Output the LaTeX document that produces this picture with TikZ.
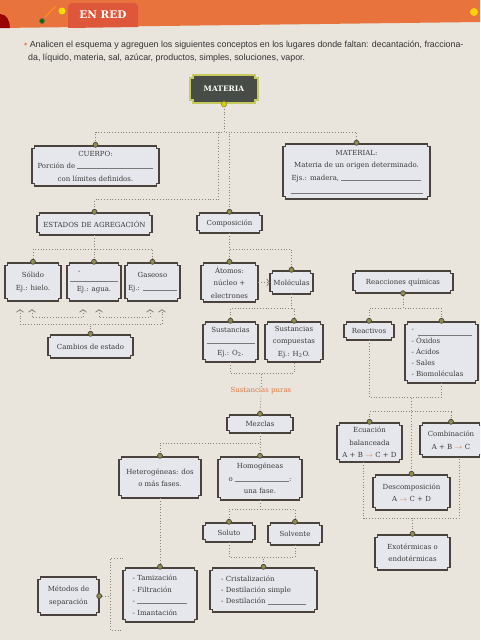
\documentclass[tikz,border=0pt]{standalone}
\usepackage{fontspec}
\setmainfont{DejaVu Serif}
\newfontfamily\instrfont{Liberation Sans}
\usetikzlibrary{arrows.meta,calc}
\definecolor{pagebg}{HTML}{E9E4DC}
\definecolor{headorange}{HTML}{E8733C}
\definecolor{tabred}{HTML}{DE573A}
\definecolor{boxfill}{HTML}{E6E7EC}
\definecolor{boxedge}{HTML}{4A433D}
\definecolor{knobfill}{HTML}{8E8F4C}
\definecolor{dotcol}{HTML}{8C8176}
\definecolor{txtcol}{HTML}{3A3A3A}
\definecolor{linegray}{HTML}{7A7A7A}
\definecolor{matfill}{HTML}{484C46}
\definecolor{matedge}{HTML}{C6CA5E}
\definecolor{accent}{HTML}{E07A45}
\newcommand\blank[1]{\textcolor{linegray}{\rule[-0.3pt]{#1pt}{0.45pt}}}
\newcommand\arr{\textcolor{accent}{$\rightarrow$}}
\def\notchsz{2.5}
\newcommand\notchpath[4]{(#1+\notchsz,#2) -- (#3-\notchsz,#2) -- (#3-\notchsz,#2+\notchsz) -- (#3,#2+\notchsz) -- (#3,#4-\notchsz) -- (#3-\notchsz,#4-\notchsz) -- (#3-\notchsz,#4) -- (#1+\notchsz,#4) -- (#1+\notchsz,#4-\notchsz) -- (#1,#4-\notchsz) -- (#1,#2+\notchsz) -- (#1+\notchsz,#2+\notchsz) -- cycle}
\newcommand\nbox[7][]{%
  \path[boxpath] \notchpath{#3}{#4}{#5}{#6};
  \node[boxtext,#1] (#2) at ({(#3+#5)/2},{(#4+#6)/2}) [minimum width={(#5-#3)*1pt}, minimum height={(#6-#4)*1pt}] {#7};
}
\newcommand\knob[1]{\filldraw[knobstyle] ($(#1)+(0,-1)$) circle (2.5pt);}
\tikzset{
  boxpath/.style={fill=boxfill, draw=boxedge, line width=1.5pt},
  boxtext/.style={inner sep=0pt, align=center, text=txtcol, font=\fontsize{7}{12.5}\selectfont},
  dl/.style={draw=dotcol, dotted, line width=0.8pt},
  knobstyle/.style={fill=knobfill, draw=boxedge, line width=0.7pt},
  cs/.style={{Straight Barb[length=2.5pt,width=7pt]}-{Straight Barb[length=2.5pt,width=7pt]}, shorten <=8pt, shorten >=8pt},
}
\begin{document}
\begin{tikzpicture}[x=1pt,y=-1pt]
\useasboundingbox (0,0) rectangle (480,640);
\clip (0,0) rectangle (480,640);
% page and header
\fill[pagebg] (0,0) rectangle (480,640);
\fill[headorange] (0,0) -- (480,0) -- (480,22) -- (0,28) -- cycle;
\fill[tabred] (68,28) -- (68,7) to[out=90,in=180] (72,3) -- (134,3) to[out=0,in=90] (138,7) -- (138,27) -- cycle;
\draw[orange!60!yellow, line width=0.6pt] (45,17) -- (56,6);
\fill[yellow!80!orange] (62,11) circle (3.5pt);
\filldraw[fill=green!45!black, draw=black!60, line width=0.6pt] (42,21) circle (2.5pt);
\fill[red!60!black] (0,14) to[out=0,in=90] (10,28) -- (0,28) -- cycle;
\fill[yellow!70!orange] (474,12) circle (4pt);
\node[font=\bfseries\fontsize{10.5}{12}\selectfont, text=white] (enred) at (103,15) {EN RED};
% instructions
\node[anchor=base west, inner sep=0pt, text=black!80, font=\instrfont\fontsize{8.85}{10}\selectfont] (instr1) at (24,47) {\textcolor{accent}{\textbullet}\ Analicen el esquema y agreguen los siguientes conceptos en los lugares donde faltan: decantación, fracciona-};
\node[anchor=base west, inner sep=0pt, text=black!80, font=\instrfont\fontsize{8.85}{10}\selectfont] (instr2) at (28,60) {da, líquido, materia, sal, azúcar, productos, simples, soluciones, vapor.};
% MATERIA
\def\notchsz{3}
\path[fill=matfill, draw=matedge, line width=2.2pt] \notchpath{190}{75}{258}{103};
\def\notchsz{2.5}
\node[inner sep=0pt, text=white, font=\bfseries\fontsize{7.5}{9}\selectfont] (materia) at (224,89) [minimum width=68pt, minimum height=28pt] {MATERIA};
% boxes
\nbox{cuerpo}{32}{146}{159}{186}{CUERPO:\\Porción de \blank{76}\\con límites definidos.}
\nbox{material}{283}{144}{430}{199}{MATERIAL:\\Materia de un origen determinado.\\Ejs.: madera, \blank{80}\\\blank{132}}
\nbox{estados}{37}{213}{152}{235}{ESTADOS DE AGREGACIÓN}
\nbox{compos}{197}{213}{262}{233}{Composición}
\nbox{solido}{5}{263}{61}{301}{Sólido\\Ej.: hielo.}
\nbox{liquido}{67}{263}{121}{301}{\makebox[48pt][l]{\hspace{8pt}-}\\[-5pt]\blank{48}\\[-2pt]Ej.: agua.}
\nbox{gaseoso}{125}{263}{180}{301}{Gaseoso\\[1pt]Ej.: \blank{34}}
\nbox{atomos}{201}{263}{258}{302}{Átomos:\\núcleo +\\electrones}
\nbox{molec}{270}{271}{313}{294}{Moléculas}
\nbox{reacc}{353}{271}{453}{293}{Reacciones químicas}
\nbox{cambios}{48}{335}{133}{358}{Cambios de estado}
\nbox{simples}{203}{322}{258}{362}{Sustancias\\[-1.5pt]\blank{48}\\[-0.5pt]Ej.: O\textsubscript{2}.}
\nbox{compuestas}{265}{322}{323}{362}{Sustancias\\compuestas\\Ej.: H\textsubscript{2}O.}
\nbox{reactivos}{344}{322}{394}{340}{Reactivos}
\nbox[align=left, font=\fontsize{7}{11}\selectfont]{productos}{405}{322}{478}{383}{-\\[-7pt]\hspace*{6pt}\blank{54}\\[-3pt]- Óxidos\\- Ácidos\\- Sales\\- Biomoléculas}
\node[inner sep=1pt, text=accent, font=\fontsize{7}{8}\selectfont] (puras) at (261,391) {Sustancias puras};
\nbox{mezclas}{227}{415}{293}{433}{Mezclas}
\nbox{ecuacion}{337}{423}{402}{462}{Ecuación\\balanceada\\A + B \arr{} C + D}
\nbox{combin}{420}{423}{482}{457}{Combinación\\A + B \arr{} C}
\nbox{descomp}{373}{475}{450}{510}{Descomposición\\A \arr{} C + D}
\nbox{hetero}{119}{457}{201}{498}{Heterogéneas: dos\\o más fases.}
\nbox{homo}{218}{457}{302}{500}{Homogéneas\\o \blank{54}:\\una fase.}
\nbox{soluto}{203}{523}{255}{542}{Soluto}
\nbox{solvente}{268}{523}{322}{545}{Solvente}
\nbox{exo}{375}{535}{450}{570}{Exotérmicas o\\endotérmicas}
\nbox[align=left, font=\fontsize{7}{11.5}\selectfont]{tamiz}{123}{568}{197}{622}{- Tamización\\- Filtración\\- \blank{50}\\- Imantación}
\nbox[align=left, font=\fontsize{7}{11}\selectfont]{cristal}{210}{568}{317}{612}{- Cristalización\\- Destilación simple\\- Destilación \blank{38}}
\nbox{metodos}{38}{577}{99}{615}{Métodos de\\separación}
% connectors
\draw[dl] (materia.south) -- ++(0,29) -| (cuerpo.north);
\draw[dl] (materia.south) -- ++(0,29) -| (material.north);
\draw[dl] (compos.north) -- ++(0,-81);
\draw[dl] (estados.north) |- ++(124,-13) -- ++(0,-68);
\draw[dl] (estados.south) -- ++(0,14) -| (solido.north);
\draw[dl] (estados.south) -- ++(0,14) -| (gaseoso.north);
\draw[dl] (estados.south) -- ++(0,14) -| (liquido.north);
\draw[dl,cs] ([xshift=-1pt]solido.south) -- ++(0,16) -| ([xshift=-11pt]liquido.south);
\draw[dl,cs] ([xshift=5pt]liquido.south) -- ++(0,16) -| ([xshift=-2.5pt]gaseoso.south);
\draw[dl,cs] ([xshift=-13pt]solido.south) -- ++(0,23) -| ([xshift=9.5pt]gaseoso.south);
\draw[dl] (cambios.north) -- ++(0,-11);
\draw[dl] (compos.south) -- (atomos.north);
\draw[dl] (compos.south) -- ++(0,16) -| (molec.north);
\draw[dl,-{Straight Barb[length=2.5pt,width=7pt]}] (atomos.east) -- (molec.west);
\draw[dl] (molec.south) -- ++(0,14) -| (simples.north);
\draw[dl] (molec.south) -- ++(0,14) -| (compuestas.north);
\draw[dl] (simples.south) -- ++(0,11) -| (compuestas.south);
\draw[dl] (puras.north) -- ++(0,-13);
\draw[dl] (puras.south) -- (mezclas.north);
\draw[dl] (reacc.south) -- ++(0,15) -| (reactivos.north);
\draw[dl] (reacc.south) -- ++(0,15) -| (productos.north);
\draw[dl] (reactivos.south) -- ++(0,57) -| (productos.south);
\draw[dl] (descomp.north) -- ++(0,-78);
\draw[dl] (ecuacion.north) -- ++(0,-11) -| (combin.north);
\draw[dl] ([xshift=-6pt]ecuacion.south) -- ++(0,56) -| ([xshift=8pt]combin.south);
\draw[dl] (exo.north) -- ++(0,-17);
\draw[dl] (mezclas.south) -- ++(0,10) -| (hetero.north);
\draw[dl] (mezclas.south) -- (homo.north);
\draw[dl] (homo.south) -- ++(0,9) -| (soluto.north);
\draw[dl] (homo.south) -- ++(0,9) -| (solvente.north);
\draw[dl] (soluto.south) -- ++(0,15) -| (solvente.south);
\draw[dl] (cristal.north) -- ++(0,-11);
\draw[dl] (hetero.south) -- (tamiz.north);
\draw[dl] (metodos.east) -- ++(11,0);
\draw[dl] ($(metodos.east)+(24,-38)$) -- ++(-13,0) -- ++(0,72) -- ++(13,0);
% knobs
\foreach \n in {cuerpo,material,estados,compos,solido,liquido,gaseoso,atomos,molec,cambios,simples,compuestas,reactivos,productos,mezclas,ecuacion,combin,descomp,hetero,homo,soluto,solvente,exo,tamiz,cristal}{\knob{\n.north}}
\filldraw[knobstyle] (reacc.south) circle (2.5pt);
\filldraw[knobstyle] (metodos.east) circle (2.5pt);
\filldraw[fill=yellow!70!olive, draw=matedge!70!black, line width=0.6pt] ($(materia.south)+(0,1)$) circle (2.7pt);
\end{tikzpicture}
\end{document}
